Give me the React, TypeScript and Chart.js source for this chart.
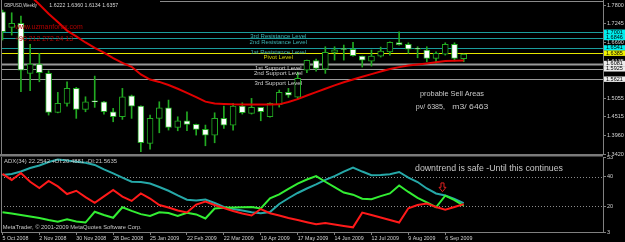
import React, { useEffect, useRef } from 'react';
import { Chart, registerables } from 'chart.js';

Chart.register(...registerables);

const FONT = '"Liberation Sans", Arial, sans-serif';

// ---------- data ----------
const weekLabels = ['5 Oct 2008', '2 Nov 2008', '30 Nov 2008', '28 Dec 2008', '25 Jan 2009', '22 Feb 2009', '22 Mar 2009', '19 Apr 2009', '17 May 2009', '14 Jun 2009', '12 Jul 2009', '9 Aug 2009', '6 Sep 2009'];
const labelWeeks = [0, 4, 8, 12, 16, 20, 24, 28, 32, 36, 40, 44, 48];

const openP = [1.7603, 1.7144, 1.7262, 1.5791, 1.6065, 1.5791, 1.4644, 1.4909, 1.5350, 1.4732,
  1.4960, 1.4956, 1.4662, 1.4515, 1.5133, 1.4829, 1.3732, 1.4468, 1.4779, 1.4203,
  1.4397, 1.4291, 1.4144, 1.3976, 1.4468, 1.4271, 1.4829, 1.4615, 1.4791, 1.4515,
  1.4874, 1.5232, 1.5094, 1.5888, 1.6168, 1.5918, 1.6409, 1.6500, 1.6497, 1.6300,
  1.6153, 1.6300, 1.6426, 1.6697, 1.6644, 1.6506, 1.6476, 1.6232, 1.6359, 1.6644, 1.6222];
const highP = [1.7653, 1.7574, 1.7476, 1.6644, 1.6379, 1.5868, 1.5232, 1.5544, 1.5379, 1.5103,
  1.5712, 1.4970, 1.4762, 1.5350, 1.5153, 1.4840, 1.4565, 1.4956, 1.5006, 1.4515,
  1.4662, 1.4300, 1.4271, 1.4632, 1.4829, 1.4909, 1.4926, 1.5056, 1.4791, 1.4926,
  1.5300, 1.5350, 1.5829, 1.6180, 1.6212, 1.6574, 1.6574, 1.6624, 1.6703, 1.6300,
  1.6476, 1.6565, 1.6721, 1.7015, 1.6691, 1.6574, 1.6574, 1.6426, 1.6691, 1.6691, 1.6360];
const lowP = [1.6771, 1.6918, 1.5250, 1.5279, 1.5544, 1.4565, 1.4630, 1.4829, 1.4468, 1.4662,
  1.4791, 1.4594, 1.4368, 1.4438, 1.4468, 1.3485, 1.3565, 1.4044, 1.4124, 1.4103,
  1.4103, 1.3976, 1.3662, 1.3750, 1.4174, 1.4124, 1.4594, 1.4594, 1.4397, 1.4500,
  1.4800, 1.5085, 1.5035, 1.5809, 1.5859, 1.5791, 1.6182, 1.6182, 1.6300, 1.5976,
  1.6006, 1.6271, 1.6329, 1.6624, 1.6379, 1.6250, 1.6132, 1.6085, 1.6329, 1.6153, 1.6134];
const closeP = [1.7015, 1.7262, 1.5888, 1.6065, 1.5809, 1.4644, 1.4909, 1.5350, 1.4732, 1.4956,
  1.4952, 1.4662, 1.4515, 1.5103, 1.4829, 1.3750, 1.4468, 1.4779, 1.4203, 1.4397,
  1.4291, 1.4144, 1.3976, 1.4468, 1.4271, 1.4829, 1.4638, 1.4791, 1.4662, 1.4909,
  1.5232, 1.5153, 1.5644, 1.6174, 1.5938, 1.6409, 1.6485, 1.6494, 1.6315, 1.6182,
  1.6300, 1.6447, 1.6703, 1.6638, 1.6506, 1.6500, 1.6232, 1.6379, 1.6644, 1.6232, 1.6357];
const maPrice = [1.885, 1.860, 1.835, 1.808, 1.7815, 1.7546, 1.7300, 1.7050, 1.6880, 1.6700,
  1.6540, 1.6400, 1.6240, 1.6100, 1.5985, 1.5760, 1.5610, 1.5540, 1.5450, 1.5340,
  1.5220, 1.5090, 1.4960, 1.4905, 1.4890, 1.4880, 1.4878, 1.4876, 1.4876, 1.4877,
  1.4880, 1.4950, 1.5035, 1.5140, 1.5240, 1.5340, 1.5440, 1.5530, 1.5610, 1.5690,
  1.5770, 1.5845, 1.5920, 1.5975, 1.6020, 1.6050, 1.6085, 1.6120, 1.6155, 1.6165, 1.6170];

const priceTicks = [1.78, 1.7245, 1.669, 1.6135, 1.558, 1.5055, 1.4515, 1.396, 1.342];
const levelValues = [1.7001, 1.6846, 1.6541, 1.6385, 1.6081, 1.5925, 1.5621];
const levelNames = ['3rd Resistance Level', '2nd Resistance Level', '1st Resistance Level', 'Pivot Level', '1st Support Level', '2nd Support Level', '3rd Support Level'];
const levelKinds = ['R', 'R', 'R', 'P', 'S', 'S', 'S'];

const adxMain = [41.0, 41.7, 43.3, 45.7, 47.3, 49.7, 51.3, 50.7, 49.9, 49.2,
  47.7, 44.7, 42.1, 39.3, 36.5, 36.3, 35.3, 33.0, 30.5, 27.4,
  24.5, 24.0, 24.7, 22.3, 19.7, 18.4, 17.3, 16.1, 15.5, 16.3,
  21.7, 25.5, 29.0, 32.0, 34.7, 37.7, 40.3, 43.3, 46.0, 43.3,
  40.8, 41.0, 41.5, 43.0, 39.3, 36.3, 32.0, 28.7, 27.3, 25.0, 22.2542];
const plusDI = [16.1, 15.3, 14.3, 13.3, 12.3, 11.0, 9.9, 11.5, 10.0, 9.3,
  16.5, 14.3, 12.5, 19.5, 17.1, 14.9, 13.7, 16.1, 15.7, 13.7,
  15.8, 14.7, 12.0, 18.7, 19.2, 19.3, 19.5, 19.7, 18.7, 25.5,
  28.1, 31.7, 35.3, 38.0, 40.3, 36.5, 32.9, 29.3, 27.9, 25.2,
  24.9, 26.9, 28.7, 34.0, 29.7, 25.7, 22.7, 19.5, 27.2, 24.3, 20.4881];
const minusDI = [41.7, 37.7, 42.3, 36.5, 32.3, 37.0, 33.4, 28.3, 30.5, 26.3,
  22.5, 26.7, 31.0, 26.6, 23.7, 28.7, 25.3, 21.0, 19.3, 17.3,
  16.0, 21.3, 23.3, 21.0, 19.0, 17.0, 15.3, 14.0, 18.3, 15.5,
  14.0, 12.3, 11.0, 9.5, 8.1, 9.0, 8.0, 7.0, 6.1, 15.9,
  14.3, 12.7, 11.0, 9.3, 18.8, 21.0, 22.0, 19.7, 17.9, 19.7, 21.5635];
const adxTicks = [53, 40, 20, 3];
const adxLevels = [40, 20];

// ---------- styles ----------
const CANDLE_GREEN = '#22aa22';
const X_MIN = -0.16;
const X_MAX = 65.1;
const kindLine: any = { R: '#1b9d9d', P: '#e6e600', S: '#9a9a9a' };
const kindText: any = { R: '#3db3b3', P: '#d6d600', S: '#d0d0d0' };
const kindBox: any = { R: '#00eeee', P: '#f2f200', S: '#ececec' };

function drawText(ctx: any, text: string, x: number, y: number, size: number, color: string, width?: number, align: string = 'left') {
  ctx.save();
  ctx.font = `${size}px ${FONT}`;
  ctx.fillStyle = color;
  ctx.textBaseline = 'middle';
  ctx.textAlign = align;
  const w = ctx.measureText(text).width;
  ctx.translate(x, y);
  if (width && w > 0) ctx.scale(width / w, 1);
  ctx.fillText(text, 0, 0);
  ctx.restore();
}

const mainDecor = {
  id: 'mainDecor',
  beforeDatasetsDraw(chart: any) {
    const { ctx, chartArea: a, scales } = chart;
    ctx.save();
    ctx.fillStyle = '#8a8a8a';
    ctx.fillRect(160, 1, a.right - 160, 1);
    levelValues.forEach((v, k) => {
      const py = Math.round(scales.y.getPixelForValue(v)) + 0.5;
      ctx.strokeStyle = kindLine[levelKinds[k]];
      ctx.lineWidth = k === 4 ? 2 : 1;
      ctx.beginPath();
      ctx.moveTo(a.left, py);
      ctx.lineTo(a.right, py);
      ctx.stroke();
    });
    ctx.restore();
  },
  afterDatasetsDraw(chart: any) {
    const { ctx, scales } = chart;
    const cx = scales.x.getPixelForValue(29.9);
    levelValues.forEach((v, k) => {
      const py = scales.y.getPixelForValue(v) + 4.4;
      drawText(ctx, levelNames[k], cx, py, 6, kindText[levelKinds[k]], undefined, 'center');
    });
    const n = closeP.length - 1;
    drawText(ctx, 'GBPUSD,Weekly', 4, 5.7, 5.5, '#d8d8d8', 33);
    drawText(ctx, [openP[n], highP[n], lowP[n], closeP[n]].map((v) => v.toFixed(4)).join(' '), 49.3, 5.7, 5.5, '#d8d8d8', 69);
    drawText(ctx, 'www.uzmanforex.com', 15, 26.7, 8, '#b00000', 67.7);
    drawText(ctx, '+90 212 272 24 13', 15, 38.3, 8, '#b00000', 58);
    drawText(ctx, 'probable Sell Areas', 420, 94.3, 7.5, '#c8c8c8', 64);
    drawText(ctx, 'pv/ 6385,', 415.7, 106.7, 7.5, '#c8c8c8', 29.3);
    drawText(ctx, 'm3/ 6463', 452.3, 106.7, 7.5, '#c8c8c8', 36);
  },
  afterDraw(chart: any) {
    const { ctx, chartArea: a, scales } = chart;
    ctx.save();
    ctx.fillStyle = '#7a7a7a';
    ctx.fillRect(0, a.bottom, a.right, 2.5);
    ctx.fillStyle = '#808080';
    ctx.fillRect(1, 0, 1, a.bottom);
    levelValues.forEach((v, k) => {
      const py = scales.y.getPixelForValue(v);
      ctx.fillStyle = kindBox[levelKinds[k]];
      ctx.fillRect(a.right + 1, py - 2.7, 21, 5.4);
      drawText(ctx, v.toFixed(4), a.right + 3, py, 5.5, '#000000');
    });
    ctx.restore();
  },
};

const adxDecor = {
  id: 'adxDecor',
  beforeDatasetsDraw(chart: any) {
    const { ctx, chartArea: a, scales } = chart;
    ctx.save();
    ctx.strokeStyle = '#8c8c8c';
    ctx.lineWidth = 1;
    ctx.setLineDash([1, 2]);
    adxLevels.forEach((v) => {
      const py = Math.round(scales.y.getPixelForValue(v)) + 0.5;
      ctx.beginPath();
      ctx.moveTo(a.left, py);
      ctx.lineTo(a.right, py);
      ctx.stroke();
    });
    ctx.restore();
  },
  afterDatasetsDraw(chart: any) {
    const { ctx, chartArea: a, scales } = chart;
    const n = adxMain.length - 1;
    ctx.save();
    ctx.fillStyle = '#808080';
    ctx.fillRect(1, a.top, 1, a.bottom - a.top);
    ctx.restore();
    drawText(ctx, `ADX(34) ${adxMain[n].toFixed(4)} +DI:${plusDI[n].toFixed(4)} -DI:${minusDI[n].toFixed(4)}`, 4, 5.7, 5.5, '#c8c8c8', 113);
    drawText(ctx, 'MetaTrader, \u00a9 2001-2009 MetaQuotes Software Corp.', 2.7, 71.3, 5.5, '#c8c8c8', 139);
    drawText(ctx, 'downtrend is safe -Until this continues', 415, 12.3, 8.8, '#c8c8c8', 148);
    // red down arrow above the ADX line
    const cx = scales.x.getPixelForValue(47.7);
    const y0 = scales.y.getPixelForValue(35.7);
    const y1 = scales.y.getPixelForValue(29.9);
    const yh = y0 + (y1 - y0) * 0.5;
    ctx.save();
    ctx.strokeStyle = '#e02020';
    ctx.lineWidth = 1;
    ctx.beginPath();
    ctx.moveTo(cx - 1.5, y0);
    ctx.lineTo(cx + 1.5, y0);
    ctx.lineTo(cx + 1.5, yh);
    ctx.lineTo(cx + 3.5, yh);
    ctx.lineTo(cx, y1);
    ctx.lineTo(cx - 3.5, yh);
    ctx.lineTo(cx - 1.5, yh);
    ctx.closePath();
    ctx.stroke();
    ctx.restore();
  },
};

export default function App() {
  const topRef = useRef<HTMLCanvasElement>(null);
  const botRef = useRef<HTMLCanvasElement>(null);

  useEffect(() => {
    const common: any = {
      responsive: false,
      maintainAspectRatio: false,
      animation: false,
      devicePixelRatio: 1,
      events: [],
      plugins: { legend: { display: false }, tooltip: { enabled: false } },
    };

    const main = new Chart(topRef.current as any, {
      type: 'bar',
      data: {
        datasets: [
          {
            type: 'bar',
            label: 'wick',
            data: lowP.map((l, i) => ({ x: i, y: [l, highP[i]] })),
            backgroundColor: CANDLE_GREEN,
            borderWidth: 0,
            barThickness: 1,
            grouped: false,
            order: 2,
          } as any,
          {
            type: 'bar',
            label: 'body',
            data: openP.map((o, i) => ({ x: i, y: [o, closeP[i]] })),
            backgroundColor: (c: any) => (closeP[c.dataIndex] < openP[c.dataIndex] ? '#ffffff' : '#000000'),
            borderColor: CANDLE_GREEN,
            borderWidth: 1,
            borderSkipped: false,
            barThickness: 6,
            minBarLength: 1,
            grouped: false,
            order: 1,
          } as any,
          {
            type: 'line',
            label: 'MA',
            data: maPrice.map((v, i) => ({ x: i, y: v })),
            borderColor: '#e00000',
            borderWidth: 2,
            pointRadius: 0,
            tension: 0,
            order: 0,
          } as any,
        ],
      },
      options: {
        ...common,
        layout: { padding: { left: 1, top: 0, right: 0, bottom: 8 } },
        scales: {
          x: {
            type: 'linear',
            min: X_MIN,
            max: X_MAX,
            display: false,
            offset: false,
            bounds: 'data',
            grid: { offset: false },
          },
          y: {
            type: 'linear',
            position: 'right',
            min: 1.342,
            max: 1.79494,
            bounds: 'data',
            afterBuildTicks: (s: any) => {
              s.ticks = priceTicks.map((v) => ({ value: v }));
            },
            afterFit: (s: any) => {
              s.width = 22;
              s.paddingTop = 0;
              s.paddingBottom = 0;
            },
            ticks: {
              autoSkip: false,
              padding: 1,
              color: '#d4d4d4',
              font: { size: 5.5, family: FONT },
              callback: (v: any) => Number(v).toFixed(4),
            },
            grid: { drawOnChartArea: false, drawTicks: true, tickLength: 3, color: '#808080' },
            border: { display: true, color: '#808080', width: 1 },
          },
        },
      } as any,
      plugins: [mainDecor as any],
    });

    const lineDs = (label: string, values: number[], color: string, order: number) => ({
      label,
      data: values.map((v, i) => ({ x: i, y: v })),
      borderColor: color,
      borderWidth: 2,
      pointRadius: 0,
      tension: 0,
      order,
    });

    const adx = new Chart(botRef.current as any, {
      type: 'line',
      data: {
        datasets: [
          lineDs('ADX', adxMain, '#26a8a8', 2),
          lineDs('+DI', plusDI, '#33ee33', 1),
          lineDs('-DI', minusDI, '#ff1a1a', 0),
        ] as any,
      },
      options: {
        ...common,
        layout: { padding: { left: 1, top: 1, right: 0, bottom: 0 } },
        scales: {
          x: {
            type: 'linear',
            position: 'bottom',
            min: X_MIN,
            max: X_MAX,
            offset: false,
            bounds: 'data',
            afterBuildTicks: (s: any) => {
              s.ticks = labelWeeks.map((v) => ({ value: v }));
            },
            afterFit: (s: any) => {
              s.height = 10;
              s.paddingLeft = 0;
              s.paddingRight = 0;
            },
            ticks: {
              autoSkip: false,
              maxRotation: 0,
              minRotation: 0,
              align: 'start',
              padding: 0,
              color: '#d0d0d0',
              font: { size: 5.3, family: FONT },
              callback: (v: any) => {
                const k = labelWeeks.indexOf(Number(v));
                return k >= 0 ? weekLabels[k] : '';
              },
            },
            grid: { drawOnChartArea: false, tickLength: 3, color: '#808080', offset: false },
            border: { display: true, color: '#808080' },
          },
          y: {
            type: 'linear',
            position: 'right',
            min: 3,
            max: 53,
            bounds: 'data',
            afterBuildTicks: (s: any) => {
              s.ticks = adxTicks.map((v) => ({ value: v }));
            },
            afterFit: (s: any) => {
              s.width = 22;
              s.paddingTop = 0;
              s.paddingBottom = 0;
            },
            ticks: {
              autoSkip: false,
              padding: 1,
              color: '#d0d0d0',
              font: { size: 5.5, family: FONT },
              callback: (v: any) => String(v),
            },
            grid: { drawOnChartArea: false, tickLength: 3, color: '#808080' },
            border: { display: true, color: '#808080' },
          },
        },
      } as any,
      plugins: [adxDecor as any],
    });

    return () => {
      main.destroy();
      adx.destroy();
    };
  }, []);

  return (
    <div style={{ position: 'fixed', left: 0, top: 0, width: 625, height: 242, background: '#000000', overflow: 'hidden' }}>
      <canvas ref={topRef} width={625} height={162} style={{ position: 'absolute', left: 0, top: 0, width: 625, height: 162 }} />
      <canvas ref={botRef} width={625} height={86} style={{ position: 'absolute', left: 0, top: 156, width: 625, height: 86 }} />
    </div>
  );
}
